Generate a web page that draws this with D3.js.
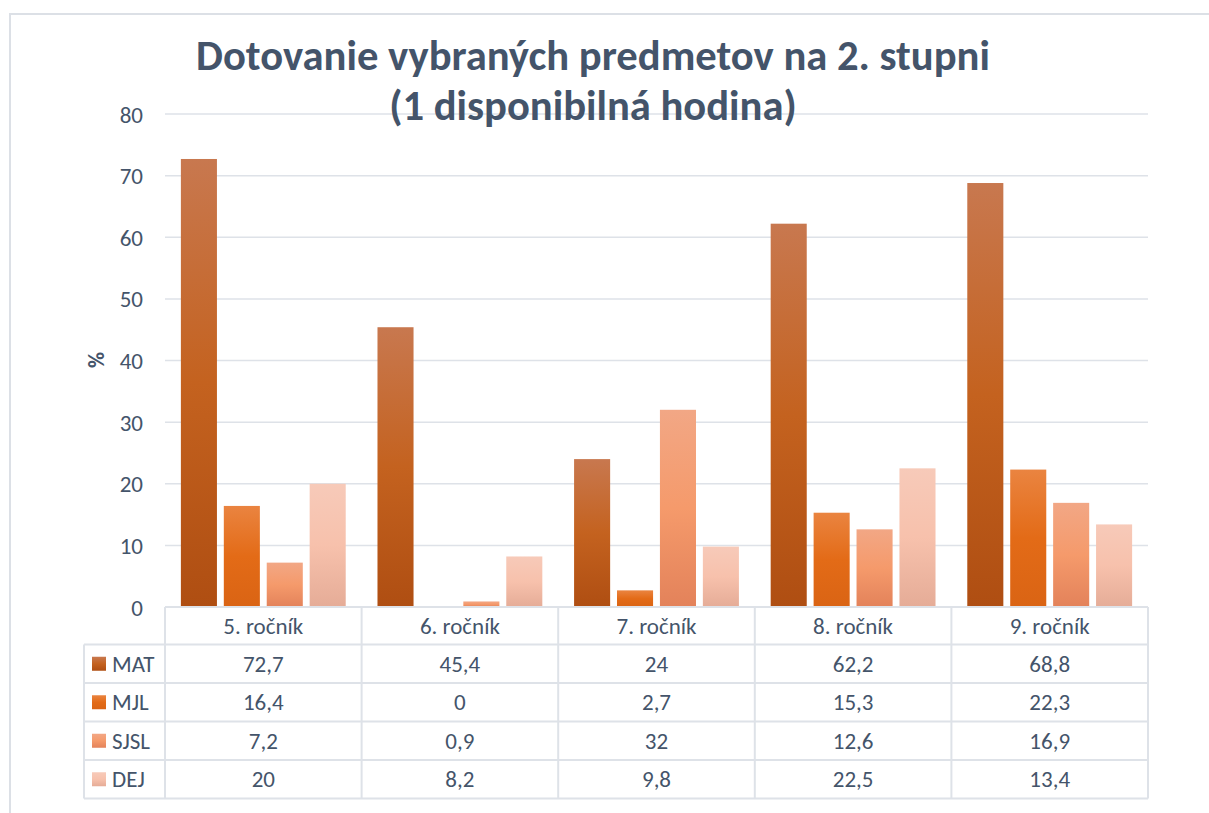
<!DOCTYPE html>
<html>
<head>
<meta charset="utf-8">
<script src="https://cdn.jsdelivr.net/npm/d3@7"></script>
<style>
  html, body { margin: 0; padding: 0; background: #fff; }
  svg { display: block; }
  text { font-family: Calibri, Carlito, "Open Sans", sans-serif; fill: #44546A; }
</style>
</head>
<body>
<svg id="chart" width="1209" height="813"></svg>
<script>
const titleLines = ["Dotovanie vybraných predmetov na 2. stupni", "(1 disponibilná hodina)"];
const yLabel = "%";
const categories = ["5. ročník", "6. ročník", "7. ročník", "8. ročník", "9. ročník"];
const series = ["MAT", "MJL", "SJSL", "DEJ"];
const MAT  = [72.7, 45.4, 24, 62.2, 68.8];
const MJL  = [16.4, 0, 2.7, 15.3, 22.3];
const SJSL = [7.2, 0.9, 32, 12.6, 16.9];
const DEJ  = [20, 8.2, 9.8, 22.5, 13.4];
const yTicks = [0, 10, 20, 30, 40, 50, 60, 70, 80];
const values = { MAT, MJL, SJSL, DEJ };

const gradients = {
  MAT:  ["#C8784F", "#C4621F", "#AF4E12"],
  MJL:  ["#EA8440", "#E36B17", "#DA6414"],
  SJSL: ["#F2A785", "#F59A6B", "#E3825A"],
  DEJ:  ["#F7CAB9", "#F7C1AC", "#E5AC97"]
};

const FS = 23;
const svg = d3.select("#chart");
const defs = svg.append("defs");
series.forEach(s => {
  const g = defs.append("linearGradient").attr("id", "g-" + s)
    .attr("x1", 0).attr("y1", 0).attr("x2", 0).attr("y2", 1);
  g.append("stop").attr("offset", "0%").attr("stop-color", gradients[s][0]);
  g.append("stop").attr("offset", "50%").attr("stop-color", gradients[s][1]);
  g.append("stop").attr("offset", "100%").attr("stop-color", gradients[s][2]);
});

// outer frame
svg.append("rect").attr("x", 10).attr("y", 14).attr("width", 1400).attr("height", 900)
  .attr("fill", "none").attr("stroke", "#DCE0E6").attr("stroke-width", 2);

const plotLeft = 165, plotRight = 1148, plotTop = 114, plotBottom = 607;
const x = d3.scaleBand().domain(categories).range([plotLeft, plotRight]).padding(0);
const xi = d3.scaleBand().domain(series).range([0, x.bandwidth()]).paddingInner(0.16).paddingOuter(0.37);
const y = d3.scaleLinear().domain([0, 80]).range([plotBottom, plotTop]);

const gridColor = "#DEE2E8";

// gridlines
svg.append("g").selectAll("line").data(yTicks.filter(d => d > 0)).join("line")
  .attr("x1", plotLeft).attr("x2", plotRight)
  .attr("y1", d => y(d)).attr("y2", d => y(d))
  .attr("stroke", gridColor).attr("stroke-width", 1.5);

// y axis labels
const yAxis = d3.axisLeft(y).tickValues(yTicks).tickSize(0).tickPadding(0).tickFormat(d3.format("d"));
const ya = svg.append("g").attr("transform", `translate(143,0)`).call(yAxis);
ya.select(".domain").remove();
ya.selectAll("text").style("font-size", FS + "px").attr("fill", "#44546A")
  .style("font-family", 'Calibri, Carlito, "Open Sans", sans-serif').attr("dy", "0.35em");

// y label
svg.append("text").attr("transform", "translate(104,360) rotate(-90)")
  .attr("text-anchor", "middle").style("font-size", "22px").style("font-weight", "bold").text(yLabel);

// bars
const bars = [];
series.forEach(s => categories.forEach((c, i) => bars.push({ s, c, v: values[s][i] })));
svg.append("g").selectAll("rect").data(bars).join("rect")
  .attr("x", d => x(d.c) + xi(d.s))
  .attr("width", xi.bandwidth())
  .attr("y", d => y(d.v))
  .attr("height", d => y(0) - y(d.v))
  .attr("fill", d => `url(#g-${d.s})`);

// table
const headerTop = plotBottom, headerH = 37.5, rowH = 38.5;
const legendLeft = 84;
const t = svg.append("g");
const lineStyle = sel => sel.attr("stroke", gridColor).attr("stroke-width", 2).attr("fill", "none");
t.append("line").attr("x1", plotLeft).attr("x2", plotRight).attr("y1", headerTop).attr("y2", headerTop).call(lineStyle);
for (let r = 0; r <= series.length; r++) {
  const yy = headerTop + headerH + r * rowH;
  t.append("line").attr("x1", legendLeft).attr("x2", plotRight).attr("y1", yy).attr("y2", yy).call(lineStyle);
}
const tableBottom = headerTop + headerH + series.length * rowH;
categories.forEach(c => {
  t.append("line").attr("x1", x(c)).attr("x2", x(c)).attr("y1", headerTop).attr("y2", tableBottom).call(lineStyle);
});
t.append("line").attr("x1", plotRight).attr("x2", plotRight).attr("y1", headerTop).attr("y2", tableBottom).call(lineStyle);
t.append("line").attr("x1", legendLeft).attr("x2", legendLeft).attr("y1", headerTop + headerH).attr("y2", tableBottom).call(lineStyle);

t.selectAll("text.hdr").data(categories).join("text").attr("class", "hdr")
  .attr("x", d => x(d) + x.bandwidth() / 2).attr("y", headerTop + headerH / 2)
  .attr("dy", "0.35em").attr("text-anchor", "middle").style("font-size", FS + "px").text(d => d);

const fmt = v => String(v).replace(".", ",");
series.forEach((s, r) => {
  const cy = headerTop + headerH + r * rowH + rowH / 2;
  t.append("rect").attr("x", 92).attr("y", cy - 7).attr("width", 14).attr("height", 14)
    .attr("fill", `url(#g-${s})`);
  t.append("text").attr("x", 112).attr("y", cy).attr("dy", "0.35em")
    .style("font-size", FS + "px").text(s);
  t.selectAll(null).data(categories).join("text")
    .attr("x", d => x(d) + x.bandwidth() / 2).attr("y", cy).attr("dy", "0.35em")
    .attr("text-anchor", "middle").style("font-size", FS + "px")
    .text((d, i) => fmt(values[s][i]));
});

// title
const title = svg.append("g");
const t1 = title.append("text").attr("x", 593).attr("y", 70).attr("text-anchor", "middle")
  .style("font-weight", "bold").style("font-size", "36px").text(titleLines[0]);
const w1 = t1.node().getComputedTextLength();
const fs = 36 * 794 / w1;
t1.style("font-size", fs + "px");
title.append("text").attr("x", 593).attr("y", 120).attr("text-anchor", "middle")
  .style("font-weight", "bold").style("font-size", fs + "px").text(titleLines[1]);
</script>
</body>
</html>
